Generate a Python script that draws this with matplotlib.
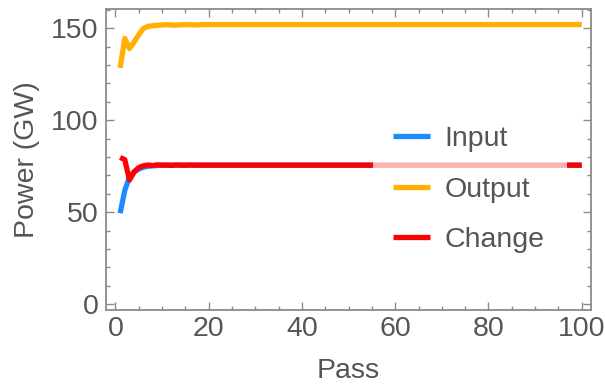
import matplotlib
matplotlib.use("Agg")
import matplotlib.pyplot as plt
from matplotlib.ticker import MultipleLocator
from matplotlib.patches import Rectangle

plt.rcParams['font.family'] = ['Liberation Sans', 'DejaVu Sans']

passes = list(range(1, 101))

input_power = [
    49.5, 62.0, 69.0, 72.0, 73.5, 74.5, 75.0, 75.3, 75.4, 75.5,
    75.5, 75.6, 75.6, 75.6, 75.6, 75.6, 75.6, 75.6, 75.6, 75.6,
] + [75.6] * 80

output_power = [
    128.5, 144.5, 139.0, 142.5, 146.5, 150.0, 151.0, 151.4, 151.6, 151.8,
    151.9, 151.8, 151.7, 151.9, 152.0, 151.9, 151.8, 151.9, 152.0, 152.0,
] + [152.0] * 80

change_power = [
    79.8, 78.6, 67.5, 72.0, 74.3, 75.3, 75.7, 75.4, 75.8, 75.6,
    75.7, 75.5, 75.7, 75.6, 75.6, 75.7, 75.6, 75.6, 75.6, 75.6,
] + [75.6] * 80

series_names = ["Input", "Output", "Change"]
series_colors = ["#1a8cff", "#ffb000", "#ff0000"]

x_ticks = [0, 20, 40, 60, 80, 100]
y_ticks = [0, 50, 100, 150]

frame_gray = "#8a8a8a"
text_gray = "#555555"
fs = 20.5

fig = plt.figure(figsize=(6.05, 3.85), dpi=100)
ax = fig.add_axes([0.1747, 0.1948, 0.8022, 0.7810])

for vals, name, col in zip([input_power, output_power, change_power],
                           series_names, series_colors):
    ax.plot(passes, vals, color=col, lw=3.8, label=name,
            solid_joinstyle="round", solid_capstyle="butt", zorder=2)

ax.set_xlim(-2.1, 102.0)
ax.set_ylim(-3.1, 160.3)

ax.xaxis.set_major_locator(MultipleLocator(20))
ax.xaxis.set_minor_locator(MultipleLocator(5))
ax.yaxis.set_major_locator(MultipleLocator(50))
ax.yaxis.set_minor_locator(MultipleLocator(10))
ax.set_xticks(x_ticks)
ax.set_yticks(y_ticks)

for side in ax.spines.values():
    side.set_color(frame_gray)
    side.set_linewidth(1.3)

ax.tick_params(which="both", direction="in", top=True, right=True,
               color=frame_gray, width=1.0, labelsize=fs,
               labelcolor=text_gray)
ax.tick_params(which="major", length=5.5)
ax.tick_params(which="minor", length=3.0)
ax.tick_params(axis="x", which="major", pad=4)
ax.tick_params(axis="y", which="major", pad=5)

ax.set_xlabel("Pass", fontsize=fs, color=text_gray, labelpad=12)
ax.set_ylabel("Power (GW)", fontsize=fs, color=text_gray, labelpad=8)

# translucent backdrop behind the legend entries
ax.add_patch(Rectangle((0.551, 0.166), 0.40, 0.49, transform=ax.transAxes,
                       facecolor="white", alpha=0.7, edgecolor="none",
                       zorder=3))

leg = ax.legend(loc="center left", bbox_to_anchor=(0.592, 0.400),
                frameon=False, fontsize=fs, handlelength=1.3,
                handletextpad=0.5, labelspacing=0.86, borderpad=0,
                borderaxespad=0)
leg.set_zorder(4)
for txt in leg.get_texts():
    txt.set_color(text_gray)

fig.savefig("out.png", dpi=100)
